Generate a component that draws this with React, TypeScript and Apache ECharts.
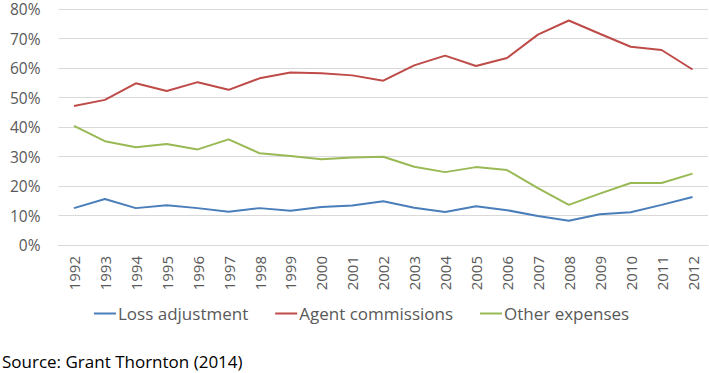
import React, { useEffect, useRef } from "react";
import * as echarts from "echarts";

const years = [
  "1992", "1993", "1994", "1995", "1996", "1997", "1998", "1999", "2000", "2001", "2002",
  "2003", "2004", "2005", "2006", "2007", "2008", "2009", "2010", "2011", "2012",
];
const lossAdjustment = [
  12.5, 15.6, 12.5, 13.5, 12.5, 11.3, 12.5, 11.6, 12.9, 13.4, 14.8,
  12.6, 11.2, 13.1, 11.8, 9.8, 8.2, 10.4, 11.1, 13.6, 16.3,
];
const agentCommissions = [
  47.1, 49.2, 54.8, 52.2, 55.2, 52.6, 56.5, 58.5, 58.2, 57.5, 55.7,
  60.9, 64.2, 60.7, 63.4, 71.3, 76.1, 71.6, 67.2, 66.1, 59.5,
];
const otherExpenses = [
  40.4, 35.2, 33.1, 34.2, 32.4, 35.8, 31.1, 30.2, 29.1, 29.7, 29.9,
  26.5, 24.7, 26.4, 25.4, 19.3, 13.6, 17.4, 21.0, 21.0, 24.2,
];
const seriesNames = ["Loss adjustment", "Agent commissions", "Other expenses"];
const sourceText = "Source: Grant Thornton (2014)";

const FONT = "'Open Sans', sans-serif";
const TEXT = "#595959";

export default function App() {
  const ref = useRef<HTMLDivElement>(null);
  useEffect(() => {
    if (!ref.current) return;
    const chart = echarts.init(ref.current, null, { renderer: "svg" });
    const mk = (name: string, data: number[], color: string) => ({
      name,
      type: "line",
      data,
      symbol: "none",
      lineStyle: { width: 2, color },
      itemStyle: { color },
    });
    chart.setOption({
      animation: false,
      backgroundColor: "#ffffff",
      textStyle: { fontFamily: FONT },
      grid: { left: 58.5, right: 1, top: 9, bottom: 128 },
      xAxis: {
        type: "category",
        data: years,
        boundaryGap: true,
        axisLine: { show: true, lineStyle: { color: "#d9d9d9", width: 1 } },
        axisTick: { show: false },
        axisLabel: { rotate: 90, color: TEXT, fontSize: 15, fontFamily: FONT, margin: 11, interval: 0 },
      },
      yAxis: {
        type: "value",
        min: 0,
        max: 80,
        interval: 10,
        axisLine: { show: false },
        axisTick: { show: false },
        splitLine: { lineStyle: { color: "#d9d9d9", width: 1 } },
        axisLabel: { formatter: "{value}%", color: TEXT, fontSize: 15.5, fontFamily: FONT, margin: 18 },
      },
      legend: {
        data: seriesNames,
        left: 89,
        top: 300,
        icon: "rect",
        itemWidth: 22,
        itemHeight: 2,
        itemGap: 27,
        textStyle: { color: TEXT, fontSize: 17, fontFamily: FONT, padding: [0, 0, 0, -3] },
      },
      graphic: [
        {
          type: "text",
          left: 2,
          top: 353,
          style: { text: sourceText, fill: "#000000", fontSize: 17, fontFamily: FONT },
        },
      ],
      series: [
        mk(seriesNames[0], lossAdjustment, "#4A7EBB"),
        mk(seriesNames[1], agentCommissions, "#BE4B48"),
        mk(seriesNames[2], otherExpenses, "#98B954"),
      ],
    });
    return () => chart.dispose();
  }, []);
  return (
    <div
      ref={ref}
      style={{ position: "fixed", left: 0, top: 0, width: 709, height: 373, background: "#fff" }}
    />
  );
}
